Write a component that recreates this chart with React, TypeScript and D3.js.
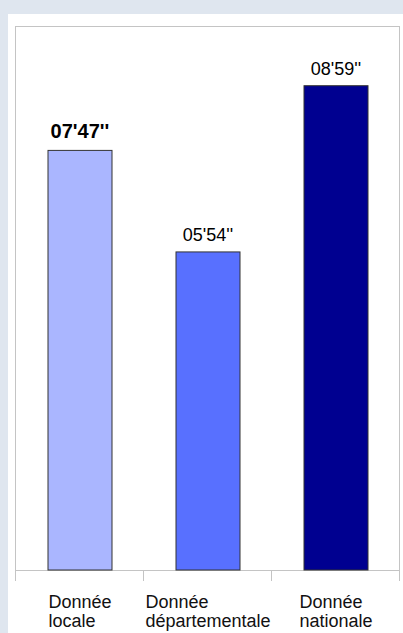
import React, { useEffect, useRef } from "react";
import * as d3 from "d3";

// catégories (deux lignes chacune) et durées en secondes
const categories = ["Donnée locale", "Donnée départementale", "Donnée nationale"];
const labelLines = [
  ["Donnée", "locale"],
  ["Donnée", "départementale"],
  ["Donnée", "nationale"],
];
const seconds = [467, 354, 539];
const valueLabels = ["07'47''", "05'54''", "08'59''"];
const colors = ["#aab6ff", "#5870ff", "#000090"];

const W = 403;
const H = 633;

export default function App() {
  const svgRef = useRef<SVGSVGElement>(null);

  useEffect(() => {
    document.body.style.margin = "0";
    if (!svgRef.current) return;
    const svg = d3.select(svgRef.current);
    svg.selectAll("*").remove();

    const left = 16;
    const right = 400;
    const top = 26;
    const axisY = 570;

    // fond
    svg.append("rect").attr("width", W).attr("height", H).attr("fill", "#dfe6ef");
    svg.append("rect").attr("x", 8).attr("y", 14).attr("width", W - 8).attr("height", H - 14).attr("fill", "#fff");

    const x = d3.scaleBand<string>().domain(categories).range([left, right]).paddingInner(0).paddingOuter(0);
    const y = d3.scaleLinear().domain([0, 600]).range([axisY, axisY - 600 * 0.8985]);

    const g = svg.append("g");

    // cadre
    const frame = "#c4c4c4";
    g.append("line").attr("x1", left).attr("x2", right).attr("y1", top + 0.5).attr("y2", top + 0.5).attr("stroke", frame);
    [left, right].forEach((xx) =>
      g.append("line").attr("x1", xx - 0.5).attr("x2", xx - 0.5).attr("y1", top).attr("y2", 581).attr("stroke", frame)
    );

    // axe X
    g.append("line").attr("x1", left).attr("x2", right).attr("y1", axisY + 0.5).attr("y2", axisY + 0.5).attr("stroke", frame);
    categories.slice(1).forEach((c) =>
      g.append("line").attr("x1", x(c)! - 0.5).attr("x2", x(c)! - 0.5).attr("y1", axisY).attr("y2", 581).attr("stroke", frame)
    );

    const barW = x.bandwidth() * 0.5;
    const font = "'Liberation Sans', Arial, sans-serif";

    categories.forEach((c, i) => {
      const cx = x(c)! + x.bandwidth() / 2;
      g.append("rect")
        .attr("x", cx - barW / 2)
        .attr("y", y(seconds[i]))
        .attr("width", barW)
        .attr("height", axisY - y(seconds[i]))
        .attr("fill", colors[i])
        .attr("stroke", "#333")
        .attr("stroke-width", 1);

      const bold = i === 0;
      g.append("text")
        .attr("x", cx)
        .attr("y", y(seconds[i]) - (bold ? 12 : 11))
        .attr("text-anchor", "middle")
        .style("font-family", font)
        .style("font-size", bold ? "20px" : "18px")
        .style("font-weight", bold ? "bold" : "normal")
        .style("fill", "#000")
        .text(valueLabels[i]);

      // libellé sur deux lignes, aligné à gauche et centré en bloc
      const lbl = g.append("g");
      const texts = labelLines[i].map((t, k) =>
        lbl
          .append("text")
          .attr("y", 608 + k * 19)
          .style("font-family", font)
          .style("font-size", "18px")
          .style("fill", "#111")
          .text(t)
      );
      const wMax = Math.max(...texts.map((t) => (t.node() as SVGTextElement).getComputedTextLength()));
      texts.forEach((t) => t.attr("x", cx - wMax / 2));
    });
  }, []);

  return <svg ref={svgRef} width={W} height={H} style={{ display: "block" }} />;
}
